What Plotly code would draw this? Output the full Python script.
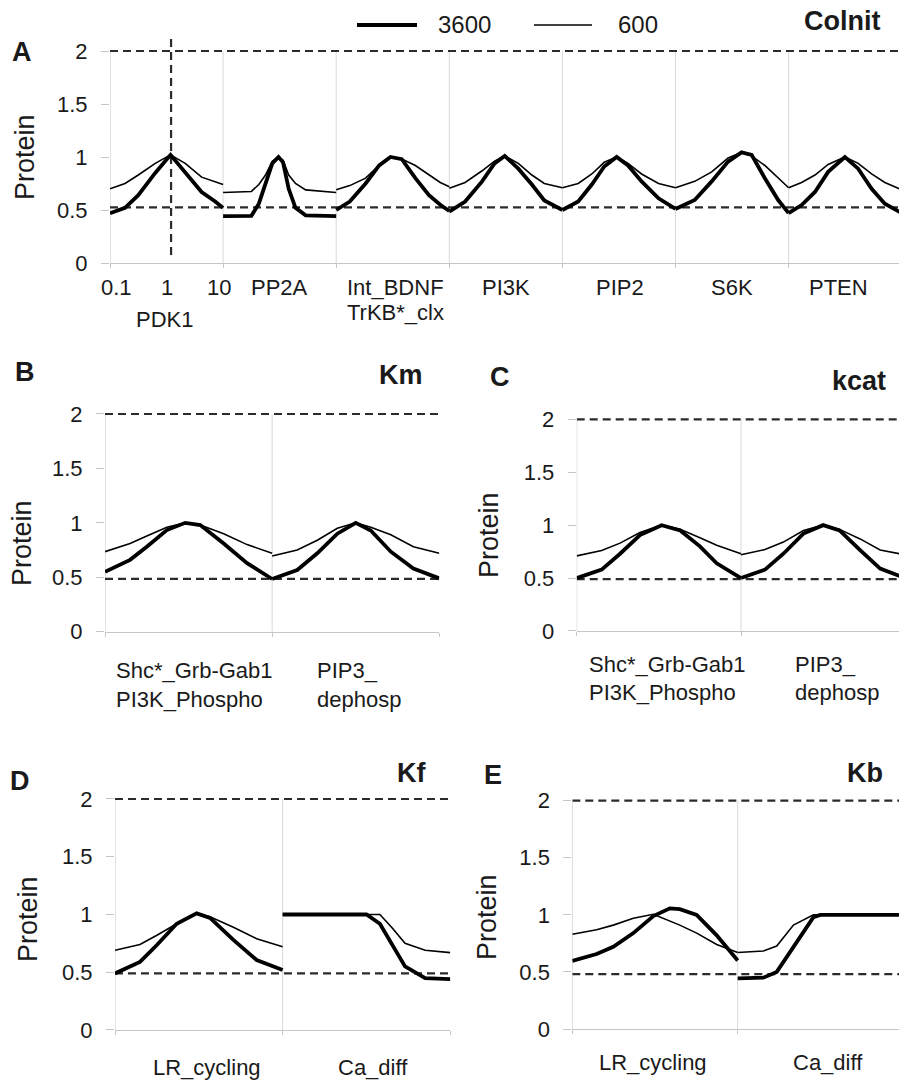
import math
import plotly.graph_objects as go

W, H = 899, 1081
FONT = "Liberation Sans, Arial, Helvetica, sans-serif"
INK = "#1a1a1a"

# ------------------------------------------------------------------
# DATA  (pos = position inside a parameter block, log10 scale factor
#        mapped to 0..1, i.e. 0.1 -> 0, 1 -> 0.5, 10 -> 1)
# ------------------------------------------------------------------
# Panel A : ColnIt
A_pdk1_pos = [0, 0.133, 0.25, 0.40, 0.535, 0.665, 0.81, 0.93, 1]
A_pdk1_3600 = [0.47, 0.52, 0.64, 0.85, 1.02, 0.86, 0.67, 0.58, 0.52]
A_pdk1_600 = [0.70, 0.75, 0.83, 0.94, 1.02, 0.94, 0.81, 0.765, 0.74]

A_pp2a_pos = [0, 0.25, 0.316, 0.375, 0.435, 0.49, 0.53, 0.58, 0.64, 0.73, 1]
A_pp2a_3600 = [0.443, 0.445, 0.56, 0.74, 0.94, 1.0, 0.95, 0.70, 0.52, 0.45, 0.443]
A_pp2a_600 = [0.665, 0.675, 0.74, 0.83, 0.96, 1.0, 0.97, 0.83, 0.75, 0.69, 0.665]

A_bdnf_pos = [0, 0.12, 0.26, 0.38, 0.48, 0.58, 0.70, 0.82, 0.92, 1]
A_bdnf_3600 = [0.50, 0.58, 0.75, 0.92, 1.0, 0.98, 0.80, 0.64, 0.55, 0.49]
A_bdnf_600 = [0.69, 0.73, 0.80, 0.92, 1.0, 0.98, 0.92, 0.83, 0.76, 0.72]

A_pi3k_pos = [0, 0.14, 0.29, 0.40, 0.49, 0.61, 0.73, 0.84, 1]
A_pi3k_3600 = [0.484, 0.58, 0.77, 0.94, 1.01, 0.89, 0.74, 0.59, 0.50]
A_pi3k_600 = [0.705, 0.76, 0.87, 0.96, 1.01, 0.94, 0.83, 0.75, 0.71]

A_pip2_pos = [0, 0.14, 0.26, 0.37, 0.48, 0.58, 0.70, 0.85, 1]
A_pip2_3600 = [0.50, 0.58, 0.74, 0.91, 1.0, 0.92, 0.77, 0.61, 0.51]
A_pip2_600 = [0.71, 0.75, 0.84, 0.95, 1.0, 0.94, 0.84, 0.75, 0.71]

A_s6k_pos = [0, 0.17, 0.32, 0.465, 0.584, 0.673, 0.79, 0.908, 1]
A_s6k_3600 = [0.51, 0.594, 0.77, 0.956, 1.044, 1.02, 0.80, 0.594, 0.47]
A_s6k_600 = [0.71, 0.77, 0.86, 0.99, 1.044, 1.01, 0.92, 0.80, 0.71]

A_pten_pos = [0, 0.115, 0.233, 0.35, 0.498, 0.615, 0.734, 0.851, 1]
A_pten_3600 = [0.47, 0.547, 0.67, 0.86, 1.0, 0.89, 0.70, 0.56, 0.47]
A_pten_600 = [0.71, 0.76, 0.83, 0.93, 1.0, 0.94, 0.84, 0.76, 0.69]

A_labels = [["PDK1"], ["PP2A"], ["Int_BDNF", "TrKB*_clx"], ["PI3K"], ["PIP2"], ["S6K"], ["PTEN"]]
A_scale_ticks = [0.1, 1, 10]

# Panel B : Km
B_shc_pos = [0, 0.15, 0.25, 0.37, 0.48, 0.57, 0.71, 0.85, 1]
B_shc_3600 = [0.55, 0.66, 0.78, 0.934, 1.0, 0.98, 0.81, 0.63, 0.484]
B_shc_600 = [0.735, 0.81, 0.88, 0.96, 1.0, 0.98, 0.90, 0.80, 0.72]
B_pip3_pos = [0, 0.15, 0.27, 0.39, 0.5, 0.59, 0.71, 0.845, 1]
B_pip3_3600 = [0.484, 0.567, 0.72, 0.90, 1.0, 0.93, 0.735, 0.58, 0.49]
B_pip3_600 = [0.695, 0.75, 0.84, 0.95, 1.0, 0.96, 0.89, 0.78, 0.72]

# Panel C : kcat
C_shc_pos = [0, 0.152, 0.264, 0.385, 0.517, 0.63, 0.75, 0.852, 1]
C_shc_3600 = [0.50, 0.58, 0.73, 0.907, 1.0, 0.95, 0.80, 0.64, 0.50]
C_shc_600 = [0.71, 0.76, 0.83, 0.93, 1.0, 0.96, 0.88, 0.81, 0.73]
C_pip3_pos = [0, 0.146, 0.258, 0.38, 0.5, 0.6, 0.725, 0.847, 1]
C_pip3_3600 = [0.50, 0.58, 0.73, 0.92, 1.0, 0.95, 0.765, 0.59, 0.50]
C_pip3_600 = [0.72, 0.77, 0.84, 0.95, 1.0, 0.96, 0.87, 0.765, 0.72]

BC_labels = [["Shc*_Grb-Gab1", "PI3K_Phospho"], ["PIP3_", "dephosp"]]

# Panel D : Kf
D_lr_pos = [0, 0.149, 0.25, 0.368, 0.487, 0.567, 0.706, 0.845, 1]
D_lr_3600 = [0.49, 0.59, 0.736, 0.92, 1.01, 0.97, 0.78, 0.606, 0.52]
D_lr_600 = [0.69, 0.74, 0.82, 0.92, 1.01, 0.98, 0.89, 0.79, 0.72]
D_ca_pos = [0, 0.5, 0.58, 0.65, 0.73, 0.85, 1]
D_ca_3600 = [1.0, 1.0, 0.92, 0.75, 0.55, 0.45, 0.44]
D_ca_600 = [1.0, 1.0, 1.0, 0.89, 0.75, 0.69, 0.67]

# Panel E : Kb
E_lr_pos = [0, 0.147, 0.248, 0.369, 0.49, 0.59, 0.65, 0.752, 0.873, 1]
E_lr_3600 = [0.596, 0.657, 0.72, 0.84, 0.99, 1.057, 1.05, 1.0, 0.82, 0.60]
E_lr_600 = [0.83, 0.87, 0.91, 0.97, 1.005, 0.95, 0.91, 0.84, 0.74, 0.67]
E_ca_pos = [0, 0.155, 0.236, 0.337, 0.458, 0.5, 1]
E_ca_3600 = [0.444, 0.45, 0.50, 0.72, 0.98, 1.0, 1.0]
E_ca_600 = [0.67, 0.683, 0.727, 0.91, 1.0, 1.0, 1.0]

DE_labels = [["LR_cycling"], ["Ca_diff"]]

SERIES = ["3600", "600"]
Y_TICKS = [0, 0.5, 1, 1.5, 2]

# ------------------------------------------------------------------
# LAYOUT GEOMETRY (pixels)
# ------------------------------------------------------------------
panels = [
    dict(letter="A", title="Colnit",
         segs=[(A_pdk1_pos, A_pdk1_3600, A_pdk1_600), (A_pp2a_pos, A_pp2a_3600, A_pp2a_600),
               (A_bdnf_pos, A_bdnf_3600, A_bdnf_600), (A_pi3k_pos, A_pi3k_3600, A_pi3k_600),
               (A_pip2_pos, A_pip2_3600, A_pip2_600), (A_s6k_pos, A_s6k_3600, A_s6k_600),
               (A_pten_pos, A_pten_3600, A_pten_600)],
         left=110, segw=113.1, right=899, y0=263, unit=106, ytop=2.16, low=0.525,
         letter_xy=(22, 52), title_xy=(842, 21), ylab_xy=(25, 157)),
    dict(letter="B", title="Km",
         segs=[(B_shc_pos, B_shc_3600, B_shc_600), (B_pip3_pos, B_pip3_3600, B_pip3_600)],
         left=105, segw=167.15, right=439.3, y0=631.7, unit=108.85, ytop=2.05, low=0.485,
         letter_xy=(25, 372), title_xy=(401, 375), ylab_xy=(22, 543)),
    dict(letter="C", title="kcat",
         segs=[(C_shc_pos, C_shc_3600, C_shc_600), (C_pip3_pos, C_pip3_3600, C_pip3_600)],
         left=576.7, segw=164.3, right=899, y0=631, unit=105.85, ytop=2.05, low=0.49,
         letter_xy=(500, 377), title_xy=(859, 381), ylab_xy=(489, 535)),
    dict(letter="D", title="Kf",
         segs=[(D_lr_pos, D_lr_3600, D_lr_600), (D_ca_pos, D_ca_3600, D_ca_600)],
         left=115, segw=167.65, right=450.3, y0=1030, unit=115.5, ytop=2.05, low=0.49,
         letter_xy=(20, 781), title_xy=(411, 773), ylab_xy=(28, 919)),
    dict(letter="E", title="Kb",
         segs=[(E_lr_pos, E_lr_3600, E_lr_600), (E_ca_pos, E_ca_3600, E_ca_600)],
         left=572.3, segw=165.4, right=899, y0=1029, unit=114.15, ytop=2.05, low=0.48,
         letter_xy=(493, 775), title_xy=(865, 773), ylab_xy=(487, 917)),
]


def px(xp):
    return xp / W


def py(yp):
    return 1 - yp / H


fig = go.Figure()
shapes = []
ann = []
layout_axes = {}

AXIS_GRAY = "#c6c6c6"
DIV_GRAY = "#d8d8d8"
DASH = dict(color="#2b2b2b", width=2.2, dash="8px,5px")

for k, p in enumerate(panels):
    n = k + 1
    xa = "x" if n == 1 else f"x{n}"
    ya = "y" if n == 1 else f"y{n}"
    nseg = len(p["segs"])
    xmax = (p["right"] - p["left"]) / p["segw"]

    xs, y36, y6 = [], [], []
    for i, (pos, v36, v6) in enumerate(p["segs"]):
        xs += [i + f for f in pos] + [None]
        y36 += list(v36) + [None]
        y6 += list(v6) + [None]

    fig.add_trace(go.Scatter(x=xs, y=y6, mode="lines", name=SERIES[1],
                             line=dict(color="#000000", width=1.6),
                             xaxis=xa, yaxis=ya, showlegend=False, hoverinfo="skip"))
    fig.add_trace(go.Scatter(x=xs, y=y36, mode="lines", name=SERIES[0],
                             line=dict(color="#000000", width=3.8),
                             xaxis=xa, yaxis=ya, showlegend=False, hoverinfo="skip"))

    ytop_px = p["y0"] - p["ytop"] * p["unit"]
    layout_axes["xaxis" if n == 1 else f"xaxis{n}"] = dict(
        domain=[px(p["left"]), px(p["right"])], range=[0, xmax],
        anchor=ya, showgrid=False, zeroline=False, automargin=False,
        showline=True, linecolor=AXIS_GRAY, linewidth=1,
        tickvals=list(range(0, nseg + 1)), ticks="outside", ticklen=4,
        tickcolor=AXIS_GRAY, showticklabels=False, fixedrange=True)
    layout_axes["yaxis" if n == 1 else f"yaxis{n}"] = dict(
        domain=[py(p["y0"]), py(ytop_px)], range=[0, p["ytop"]],
        anchor=xa, showgrid=False, zeroline=False, showline=False, automargin=False,
        tickvals=Y_TICKS, ticktext=[f"{t:g}" for t in Y_TICKS],
        ticks="outside", ticklen=8, tickcolor=AXIS_GRAY,
        ticklabelstandoff=9,
        tickfont=dict(family=FONT, size=22, color=INK), fixedrange=True)

    # y-axis line and block dividers (0..2)
    shapes.append(dict(type="line", xref=xa, yref=ya, x0=0, x1=0, y0=0, y1=2,
                       line=dict(color=AXIS_GRAY, width=1), layer="below"))
    for i in range(1, nseg):
        shapes.append(dict(type="line", xref=xa, yref=ya, x0=i, x1=i, y0=0, y1=2,
                           line=dict(color=DIV_GRAY, width=1), layer="below"))
    # reference dashed lines
    for yv in (2, p["low"]):
        shapes.append(dict(type="line", xref=xa, yref=ya, x0=0, x1=xmax, y0=yv, y1=yv,
                           line=DASH, layer="below"))

    # panel letter, title, y label
    lx, ly = p["letter_xy"]
    ann.append(dict(text=f"<b>{p['letter']}</b>", x=px(lx), y=py(ly), xref="paper", yref="paper",
                    showarrow=False, xanchor="center", yanchor="middle",
                    font=dict(family=FONT, size=27, color=INK)))
    tx, ty = p["title_xy"]
    ann.append(dict(text=f"<b>{p['title']}</b>", x=px(tx), y=py(ty), xref="paper", yref="paper",
                    showarrow=False, xanchor="center", yanchor="middle",
                    font=dict(family=FONT, size=27, color=INK)))
    yx, yy = p["ylab_xy"]
    ann.append(dict(text="Protein", x=px(yx), y=py(yy), xref="paper", yref="paper",
                    showarrow=False, xanchor="center", yanchor="middle", textangle=-90,
                    font=dict(family=FONT, size=27, color=INK)))
    p["xa"] = xa


def cat_label(text, xref, xval, ypix, anchor="center", xshift=0):
    ann.append(dict(text=text, x=xval, y=py(ypix), xref=xref, yref="paper",
                    showarrow=False, xanchor=anchor, yanchor="middle", xshift=xshift,
                    font=dict(family=FONT, size=22, color=INK)))


# Panel A labels
xaA = panels[0]["xa"]
A_label_pos = [0.48, 1.5, 2.52, 3.5, 4.51, 5.5, 6.44]
for s, dx in zip(A_scale_ticks, (6, 0, -4)):
    cat_label(f"{s:g}", xaA, (math.log10(s) + 1) / 2, 287, xshift=dx)
for i, lines in enumerate(A_labels):
    if i == 0:
        cat_label(lines[0], xaA, A_label_pos[i], 319)
    else:
        cat_label(lines[0], xaA, A_label_pos[i], 287)
        if len(lines) > 1:
            cat_label(lines[1], xaA, A_label_pos[i], 312)

# Panels B / C labels (left aligned two-line labels)
for p, lefts, rows in ((panels[1], (0.054, 1.256), (670, 699)),
                       (panels[2], (0.063, 1.317), (664, 692))):
    for i, lines in enumerate(BC_labels):
        for j, t in enumerate(lines):
            cat_label(t, p["xa"], lefts[i], rows[j], anchor="left")

# Panels D / E labels
for p, cents, row in ((panels[3], (0.547, 1.538), 1067), (panels[4], (0.49, 1.546), 1062)):
    for i, lines in enumerate(DE_labels):
        cat_label(lines[0], p["xa"], cents[i], row)

# vertical dashed marker at the reference value in PDK1 block
shapes.append(dict(type="line", xref=xaA, yref="y", x0=0.54, x1=0.54, y0=0.075, y1=2.13,
                   line=DASH, layer="below"))

# legend (drawn manually)
shapes.append(dict(type="line", xref="paper", yref="paper", x0=px(357), x1=px(417),
                   y0=py(25), y1=py(25), line=dict(color="#000", width=3.8)))
shapes.append(dict(type="line", xref="paper", yref="paper", x0=px(534), x1=px(592),
                   y0=py(25), y1=py(25), line=dict(color="#000", width=1.6)))
ann.append(dict(text=SERIES[0], x=px(436), y=py(24), xref="paper", yref="paper", showarrow=False,
                xanchor="left", yanchor="middle", font=dict(family=FONT, size=24, color=INK)))
ann.append(dict(text=SERIES[1], x=px(616), y=py(24), xref="paper", yref="paper", showarrow=False,
                xanchor="left", yanchor="middle", font=dict(family=FONT, size=24, color=INK)))

fig.update_layout(
    width=W, height=H, margin=dict(l=0, r=0, t=0, b=0, autoexpand=False),
    paper_bgcolor="white", plot_bgcolor="white",
    showlegend=False, shapes=shapes, annotations=ann,
    font=dict(family=FONT, color=INK),
    **layout_axes,
)

fig.write_html("out.html", config={"displayModeBar": False},
               post_script="document.body.style.margin='0';document.body.style.overflow='hidden';")
